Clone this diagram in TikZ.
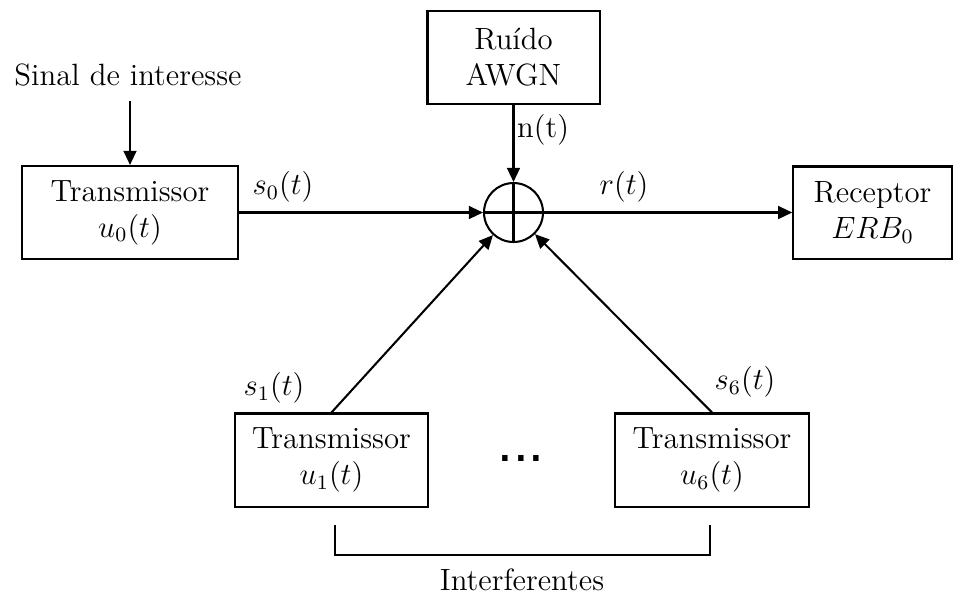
\documentclass[tikz,border=0pt]{standalone}
\usepackage{fontspec}
\newfontfamily\dotsfont{Liberation Sans}
\usetikzlibrary{arrows.meta}
\begin{document}
\begin{tikzpicture}[x=0.39pt,y=-0.39pt,
  font=\fontsize{12}{14}\selectfont,
  line width=0.8pt,
  arr/.style={-{Triangle[length=5.5pt,width=5pt]}},
  blk/.style={draw,inner sep=0pt,align=center},
  lbl/.style={inner sep=0pt}]
\useasboundingbox (0,0) rectangle (953,600);
% blocks
\node[blk,minimum width=84.2pt,minimum height=36.3pt] (t0) at (130,212.5) {Transmissor\\$u_0(t)$};
\node[blk,minimum width=67.1pt,minimum height=36.3pt] (ruido) at (513.5,57.5) {Ru\'ido\\AWGN};
\node[blk,minimum width=61.8pt,minimum height=35.9pt] (rx) at (872.5,212.5) {Receptor\\$ERB_0$};
\node[blk,minimum width=75.3pt,minimum height=36.3pt] (t1) at (331.5,460) {Transmissor\\$u_1(t)$};
\node[blk,minimum width=75.3pt,minimum height=36.3pt] (t6) at (712,460) {Transmissor\\$u_6(t)$};
% summing junction
\node[draw,circle,minimum size=23pt,inner sep=0pt] (sum) at (513.5,212.5) {};
\draw (sum.north) -- (sum.south);
\draw (sum.west) -- (sum.east);
% text labels
\node[lbl] (sinal) at (128,75) {Sinal de interesse};
\coordinate (sinend) at (130,101);
\node[lbl] (ls0) at (283,187) {$s_0(t)$};
\node[lbl] (lr) at (624,187) {$r(t)$};
\node[lbl] (ls1) at (274,388) {$s_1(t)$};
\node[lbl] (ls6) at (745,382) {$s_6(t)$};
\node[lbl] (dots) at (521,458) {\dotsfont\fontsize{22}{22}\selectfont ...};
\node[lbl] (interf) at (522,580) {Interferentes};
% connectors
\draw[arr] (sinend) -- (t0.north);
\draw[arr] (t0) -- (sum);
\draw[arr] (ruido.south) -- (sum.north) node[pos=0.32,anchor=west,lbl,xshift=1pt] (ln) {n(t)};
\draw[arr] (sum) -- (rx);
\draw[arr] (t1.north) -- (sum);
\draw[arr] (t6.north) -- (sum);
% bracket
\coordinate (bl) at (335,525);
\coordinate (br) at (710,525);
\draw (bl) -- ++(0,30) -| (br);
\end{tikzpicture}
\end{document}
